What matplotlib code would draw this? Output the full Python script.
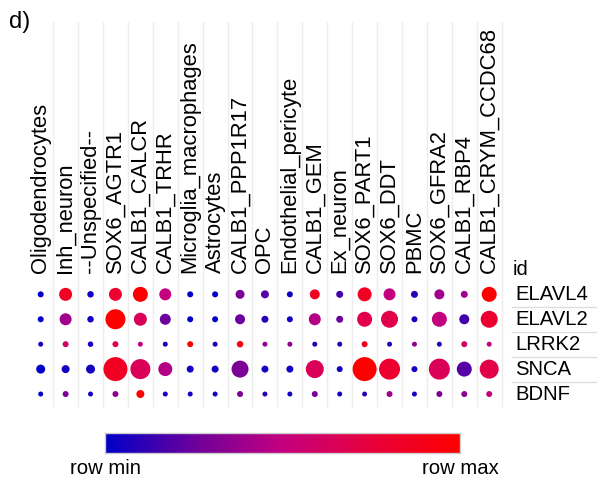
import numpy as np
import matplotlib
matplotlib.use('Agg')
import matplotlib.pyplot as plt
from matplotlib.colors import LinearSegmentedColormap

plt.rcParams['font.family'] = ['Liberation Sans', 'DejaVu Sans']

cell_types = ['Oligodendrocytes', 'Inh_neuron', '--Unspecified--', 'SOX6_AGTR1',
              'CALB1_CALCR', 'CALB1_TRHR', 'Microglia_macrophages', 'Astrocytes',
              'CALB1_PPP1R17', 'OPC', 'Endothelial_pericyte', 'CALB1_GEM',
              'Ex_neuron', 'SOX6_PART1', 'SOX6_DDT', 'PBMC', 'SOX6_GFRA2',
              'CALB1_RBP4', 'CALB1_CRYM_CCDC68']
genes = ['ELAVL4', 'ELAVL2', 'LRRK2', 'SNCA', 'BDNF']

# row-scaled expression (0 = row min, 1 = row max)
elavl4_col = [0.0, 0.85, 0.05, 0.8, 1.0, 0.5, 0.0, 0.0, 0.3, 0.2, 0.05, 0.85, 0.15, 0.85, 0.5, 0.1, 0.4, 0.4, 1.0]
elavl2_col = [0.0, 0.4, 0.05, 1.0, 0.65, 0.25, 0.0, 0.0, 0.25, 0.1, 0.05, 0.45, 0.25, 0.7, 0.7, 0.05, 0.5, 0.15, 0.8]
lrrk2_col = [0.05, 0.6, 0.05, 0.7, 0.5, 0.05, 1.0, 0.05, 0.95, 0.35, 0.35, 0.1, 0.1, 0.85, 0.1, 0.35, 0.1, 0.6, 0.5]
snca_col = [0.0, 0.05, 0.05, 0.85, 0.65, 0.45, 0.05, 0.05, 0.3, 0.05, 0.05, 0.65, 0.05, 1.0, 0.8, 0.05, 0.65, 0.2, 0.7]
bdnf_col = [0.0, 0.3, 0.05, 0.35, 1.0, 0.05, 0.05, 0.05, 0.3, 0.1, 0.05, 0.3, 0.05, 0.1, 0.4, 0.05, 0.3, 0.35, 0.5]

# dot diameters (px)
elavl4_dia = [6, 13, 6.5, 13, 15, 12, 6, 6, 9, 8, 6, 10, 7, 14, 12, 7, 10, 7, 15]
elavl2_dia = [6, 12, 6.5, 20, 13, 11, 6, 6, 10, 7, 6, 12, 7, 15, 17, 6, 15, 10, 17]
lrrk2_dia = [5, 6, 5.5, 6, 5, 5, 6, 5, 6.5, 5, 5, 5, 5, 6, 5, 5, 5, 6, 5]
snca_dia = [9, 8, 9, 24, 20, 14, 7, 7, 17, 7, 7, 18, 6, 24, 21, 6, 21, 15, 19]
bdnf_dia = [5, 6, 5, 6, 8, 5, 5, 5, 6, 5, 5, 6, 5, 5, 6, 5, 6, 6, 6]

colour_rows = [elavl4_col, elavl2_col, lrrk2_col, snca_col, bdnf_col]
size_rows = [elavl4_dia, elavl2_dia, lrrk2_dia, snca_dia, bdnf_dia]

cmap = LinearSegmentedColormap.from_list(
    'rowscale', ['#0000c8', '#6c009c', '#c4007f', '#e8003c', '#ff0000'])

fig = plt.figure(figsize=(5.97, 4.83), dpi=100)
ax = fig.add_axes([0.0473, 0.1584, 0.793, 0.258])

for r, gene in enumerate(genes):
    xs = np.arange(len(cell_types))
    ys = np.full(len(cell_types), r)
    sizes = (np.array(size_rows[r]) * 0.72) ** 2
    ax.scatter(xs, ys, s=sizes, c=colour_rows[r], cmap=cmap, vmin=0, vmax=1,
               linewidths=0, zorder=3)

ax.set_xlim(-0.5, len(cell_types) - 0.5)
ax.set_ylim(len(genes) - 0.5, -0.5)
ax.axis('off')

# vertical separators running up through the labels
top = (406.5 - 22) / 124.7
for i in range(len(cell_types)):
    ax.plot([i + 0.5, i + 0.5], [0, top], color='#ededed', lw=1,
            transform=ax.get_xaxis_transform(), clip_on=False, zorder=1)

for i, name in enumerate(cell_types):
    ax.text(i, 1.07, name, rotation=90, ha='center', va='bottom', fontsize=15.8,
            transform=ax.get_xaxis_transform())

# row labels on the right
for r, gene in enumerate(genes):
    ax.text(len(cell_types) - 0.5 + 13.5 / 24.9, r, gene, ha='left', va='center',
            fontsize=14.6)
for r in range(len(genes) - 1):
    ax.plot([len(cell_types) - 0.5 + 10.5 / 24.9, len(cell_types) - 0.5 + 96 / 24.9],
            [r + 0.5, r + 0.5], color='#dddddd', lw=1, clip_on=False)
ax.text(len(cell_types) - 0.5 + 10.5 / 24.9, -1.0, 'id', ha='left', va='center',
        fontsize=14.6)

fig.text(0.015, 0.978, 'd)', ha='left', va='top', fontsize=17)

# colour bar
cax = fig.add_axes([0.1759, 0.0621, 0.5946, 0.0414])
grad = np.linspace(0, 1, 256).reshape(1, -1)
cax.imshow(grad, aspect='auto', cmap=cmap, extent=[0, 1, 0, 1])
cax.set_xticks([])
cax.set_yticks([])
for sp in cax.spines.values():
    sp.set_color('#cccccc')
    sp.set_linewidth(1)
fig.text(0.1759, 0.031, 'row min', ha='center', va='center', fontsize=14.6)
fig.text(0.1759 + 0.5946, 0.031, 'row max', ha='center', va='center', fontsize=14.6)

fig.savefig('out.png', dpi=100)
